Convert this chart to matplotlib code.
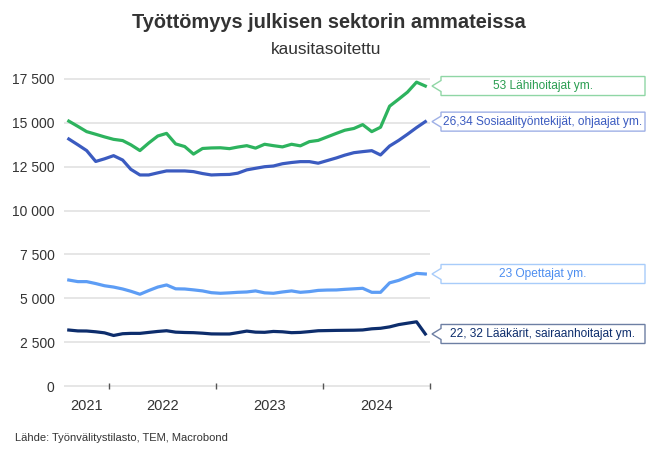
import matplotlib
matplotlib.use("Agg")
import numpy as np
import pandas as pd
import matplotlib.pyplot as plt
import matplotlib.dates as mdates
from matplotlib.patches import Polygon
from matplotlib.ticker import FuncFormatter

plt.rcParams['font.family'] = ['Liberation Sans', 'DejaVu Sans']

# Monthly data Aug 2021 - Dec 2024, plotted mid-month
months = pd.date_range("2021-08-01", periods=41, freq="MS") + pd.Timedelta(days=15)

lahihoitajat = [15100, 14800, 14500, 14350, 14200, 14060, 13990, 13750, 13420, 13850,
                14250, 14400, 13800, 13650, 13220, 13540, 13570, 13580, 13530, 13620,
                13700, 13560, 13780, 13700, 13630, 13780, 13690, 13930, 14000, 14200,
                14400, 14580, 14680, 14900, 14500, 14750, 15950, 16350, 16750, 17320,
                17100]
sosiaali = [14080, 13750, 13420, 12800, 12950, 13130, 12880, 12350, 12030, 12030,
            12150, 12260, 12260, 12260, 12220, 12110, 12030, 12050, 12060, 12130,
            12320, 12410, 12500, 12540, 12670, 12740, 12790, 12790, 12700, 12850,
            13000, 13160, 13300, 13360, 13415, 13170, 13680, 14000, 14350, 14730,
            15070]
opettajat = [6040, 5950, 5950, 5840, 5715, 5640, 5530, 5400, 5230, 5440,
             5640, 5760, 5540, 5530, 5480, 5420, 5320, 5285, 5310, 5340,
             5360, 5420, 5310, 5285, 5360, 5420, 5340, 5380, 5450, 5470,
             5475, 5510, 5540, 5570, 5340, 5340, 5880, 6020, 6220, 6420,
             6385]
laakarit = [3190, 3140, 3135, 3090, 3030, 2880, 2980, 3000, 3000, 3055,
            3110, 3150, 3070, 3050, 3040, 3010, 2970, 2965, 2965, 3040,
            3130, 3070, 3060, 3110, 3090, 3040, 3055, 3100, 3150, 3160,
            3170, 3175, 3180, 3195, 3260, 3290, 3370, 3500, 3580, 3660,
            2965]

labels = ["53 Lähihoitajat ym.",
          "26,34 Sosiaalityöntekijät, ohjaajat ym.",
          "23 Opettajat ym.",
          "22, 32 Lääkärit, sairaanhoitajat ym."]
series = [lahihoitajat, sosiaali, opettajat, laakarit]
line_colors = ['#2db35e', '#3b5bc0', '#5d9df5', '#0d2d6c']
edge_colors = ['#8fd6a5', '#9fb0e6', '#a8ccfa', '#6d7fa3']
text_colors = ['#2a9d50', '#3b5bc0', '#4d8ef0', '#0d2d6c']

years = ["2021", "2022", "2023", "2024"]
year_label_pos = pd.to_datetime(["2021-10-16", "2022-07-02", "2023-07-02", "2024-07-01"])
year_ticks = pd.to_datetime(["2022-01-01", "2023-01-01", "2024-01-01", "2025-01-01"])

W, H = 653, 459
fig = plt.figure(figsize=(W / 100, H / 100), dpi=100)

# axes placement in pixels: y=0 at 386, y=17500 at 79
ppu = (386 - 79) / 17500
y_lo, y_hi = -150, 17700
ax_bottom = 386 + (0 - y_lo) * ppu
ax_top = 386 - (y_hi - 0) * ppu
ax_left, ax_right = 64.4, 430
ax = fig.add_axes([ax_left / W, 1 - ax_bottom / H, (ax_right - ax_left) / W,
                   (ax_bottom - ax_top) / H])

for values, color in zip(series, line_colors):
    ax.plot(months, values, color=color, lw=2.3, zorder=3, solid_joinstyle='round')

ax.set_xlim(pd.Timestamp("2021-08-01"), pd.Timestamp("2025-01-01"))
ax.set_ylim(y_lo, y_hi)
ax.set_yticks(np.arange(0, 17501, 2500))
ax.yaxis.set_major_formatter(FuncFormatter(lambda v, p: f"{int(v):,}".replace(",", " ")))
ax.grid(axis='y', color='#e6e6e6', lw=1.4)
ax.set_axisbelow(True)
# keep the year tick marks above the zero gridline
ax.yaxis.set_zorder(0.4)
ax.xaxis.set_zorder(0.6)
for s in ax.spines.values():
    s.set_visible(False)
# year tick marks sit on the zero line
ax.spines['bottom'].set_position(('data', 0))
ax.tick_params(axis='y', length=0, pad=7, labelsize=10, labelcolor='#333333')

ax.set_xticks(year_ticks)
ax.set_xticklabels([])
ax.set_xticks(year_label_pos, minor=True)
ax.set_xticklabels(years, minor=True)
ax.tick_params(axis='x', which='major', direction='inout', length=5, width=1,
               color='#555555')
ax.tick_params(axis='x', which='minor', length=0, pad=9, labelsize=10.5,
               labelcolor='#333333')

# callout boxes pointing at the last value
box_right = 645
half_h = 9.5
notch = 5.5
x_end = mdates.date2num(pd.Timestamp("2025-01-01"))
for values, label, ec, tc in zip(series, labels, edge_colors, text_colors):
    tx, ty = ax.transData.transform((x_end, values[-1]))
    tx += 2
    left = tx + 9
    verts = [(left, ty + half_h), (box_right, ty + half_h), (box_right, ty - half_h),
             (left, ty - half_h), (left, ty - notch), (tx, ty), (left, ty + notch)]
    verts = [(vx / W, vy / H) for vx, vy in verts]
    fig.patches.append(Polygon(verts, closed=True, facecolor='white', edgecolor=ec,
                               lw=1, transform=fig.transFigure))
    fig.text((left + box_right) / 2 / W, ty / H, label, ha='center', va='center',
             fontsize=8.6, color=tc)

fig.text(0.504, 1 - 22 / H, "Työttömyys julkisen sektorin ammateissa", ha='center',
         va='center', fontsize=14.4, fontweight='bold', color='#333333')
fig.text(0.5, 1 - 50 / H, "kausitasoitettu", ha='center', va='center', fontsize=12.4,
         color='#333333')
fig.text(15 / W, 1 - 438 / H, "Lähde: Työnvälitystilasto, TEM, Macrobond", ha='left',
         va='center', fontsize=8, color='#333333')

fig.savefig("out.png", dpi=100)
